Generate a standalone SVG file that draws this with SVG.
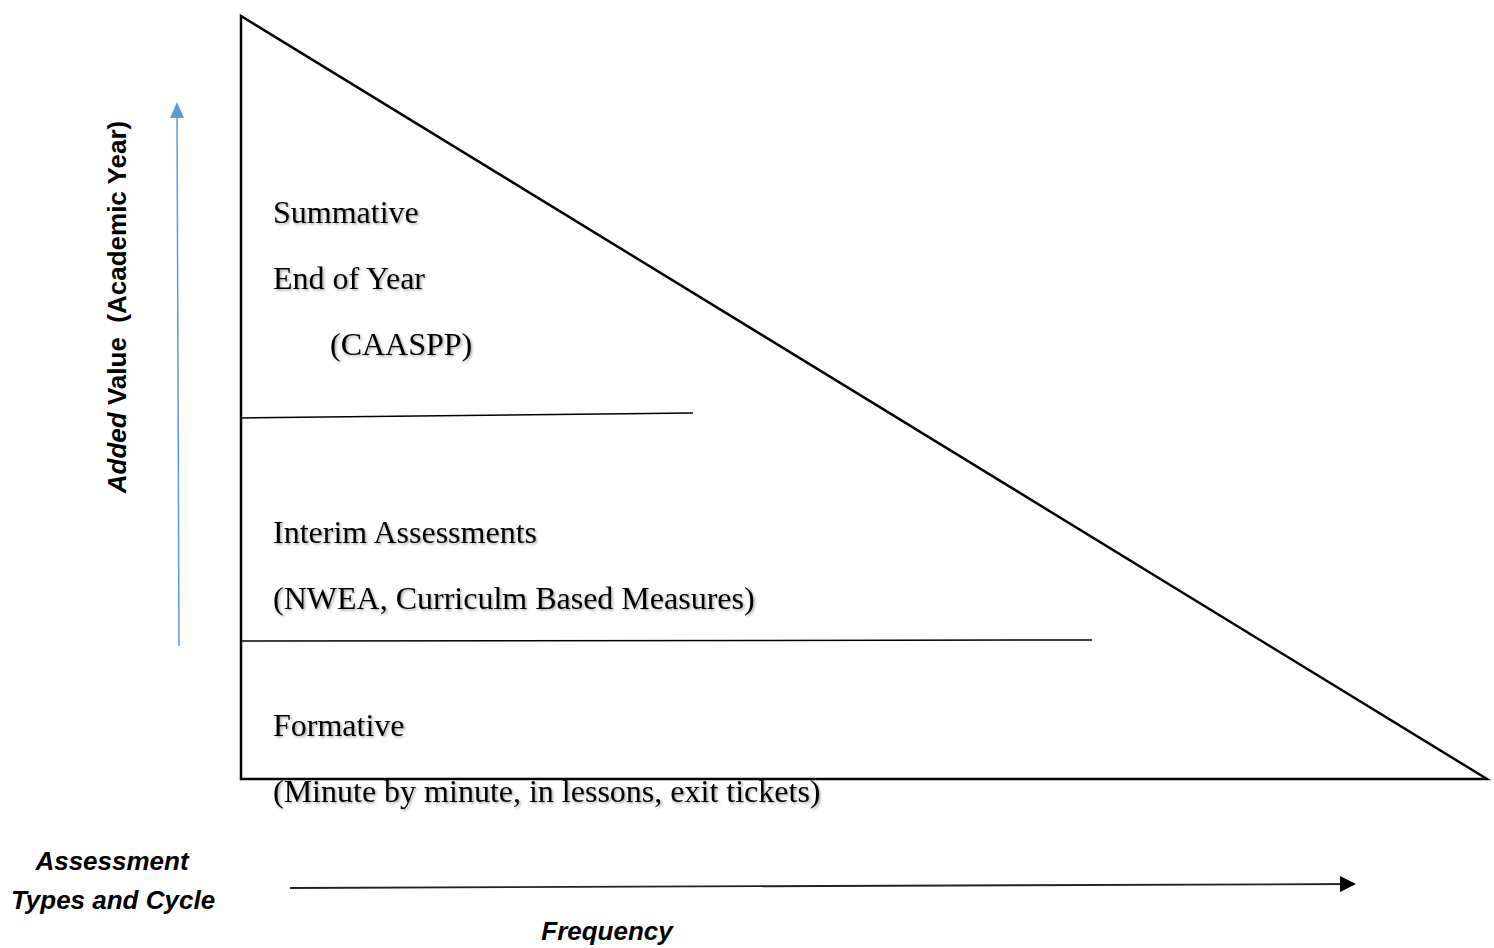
<svg xmlns="http://www.w3.org/2000/svg" width="1494" height="948" viewBox="0 0 1494 948">
  <style>
    .lbl { font-family: "Liberation Serif", "Times New Roman", serif; font-size: 32px; fill: #000; }
    .ax { font-family: "Liberation Sans", Arial, sans-serif; font-size: 26px; font-weight: bold; font-style: italic; fill: #000; }
    .up { font-family: "Liberation Sans", Arial, sans-serif; font-size: 26px; font-weight: bold; font-style: normal; fill: #000; }
    .it { font-style: italic; }
    .div { stroke: #000; stroke-width: 1.5; fill: none; }
  </style>
  <defs>
    <filter id="sh" x="-5%" y="-20%" width="110%" height="140%">
      <feDropShadow dx="1.5" dy="1.5" stdDeviation="1" flood-color="#000" flood-opacity="0.35"/>
    </filter>
    <marker id="blueHead" markerWidth="16" markerHeight="14" refX="14" refY="7" orient="auto" markerUnits="userSpaceOnUse">
      <path d="M0,0 L16,7 L0,14 Z" fill="#5b9bd5"/>
    </marker>
    <marker id="blackHead" markerWidth="16" markerHeight="16" refX="14" refY="8" orient="auto" markerUnits="userSpaceOnUse">
      <path d="M0,0 L16,8 L0,16 Z" fill="#000"/>
    </marker>
  </defs>
  <rect width="1494" height="948" fill="#fff"/>

  <g id="triangle">
    <polygon points="241,16 241,779 1487,779" fill="none" stroke="#000" stroke-width="2.5"/>
  </g>

  <g id="summative">
    <line class="div" x1="241" y1="418" x2="693" y2="413"/>
    <g filter="url(#sh)">
      <text class="lbl" x="273" y="223">Summative</text>
      <text class="lbl" x="273" y="289">End of Year</text>
      <text class="lbl" x="330" y="355">(CAASPP)</text>
    </g>
  </g>

  <g id="interim">
    <line class="div" x1="241" y1="641" x2="1092" y2="640"/>
    <g filter="url(#sh)">
      <text class="lbl" x="273" y="543">Interim Assessments</text>
      <text class="lbl" x="273" y="609">(NWEA, Curriculm Based Measures)</text>
    </g>
  </g>

  <g id="formative">
    <g filter="url(#sh)">
      <text class="lbl" x="273" y="736">Formative</text>
      <text class="lbl" x="273" y="802">(Minute by minute, in lessons, exit tickets)</text>
    </g>
  </g>

  <g id="y-axis-label">
    <text class="up" transform="translate(126,307) rotate(-90)" text-anchor="middle" xml:space="preserve"><tspan class="it">Added</tspan> Value  (Academic Year)</text>
  </g>

  <g id="x-axis-labels">
    <text class="ax" x="112" y="870" text-anchor="middle">Assessment</text>
    <text class="ax" x="113" y="909" text-anchor="middle">Types and Cycle</text>
    <text class="ax" x="607" y="940" text-anchor="middle">Frequency</text>
  </g>

  <g id="connectors">
    <line x1="179" y1="646" x2="177" y2="104" stroke="#5b9bd5" stroke-width="1.5" marker-end="url(#blueHead)"/>
    <line x1="290" y1="888" x2="1354" y2="884" stroke="#222" stroke-width="1.8" marker-end="url(#blackHead)"/>
  </g>
</svg>
